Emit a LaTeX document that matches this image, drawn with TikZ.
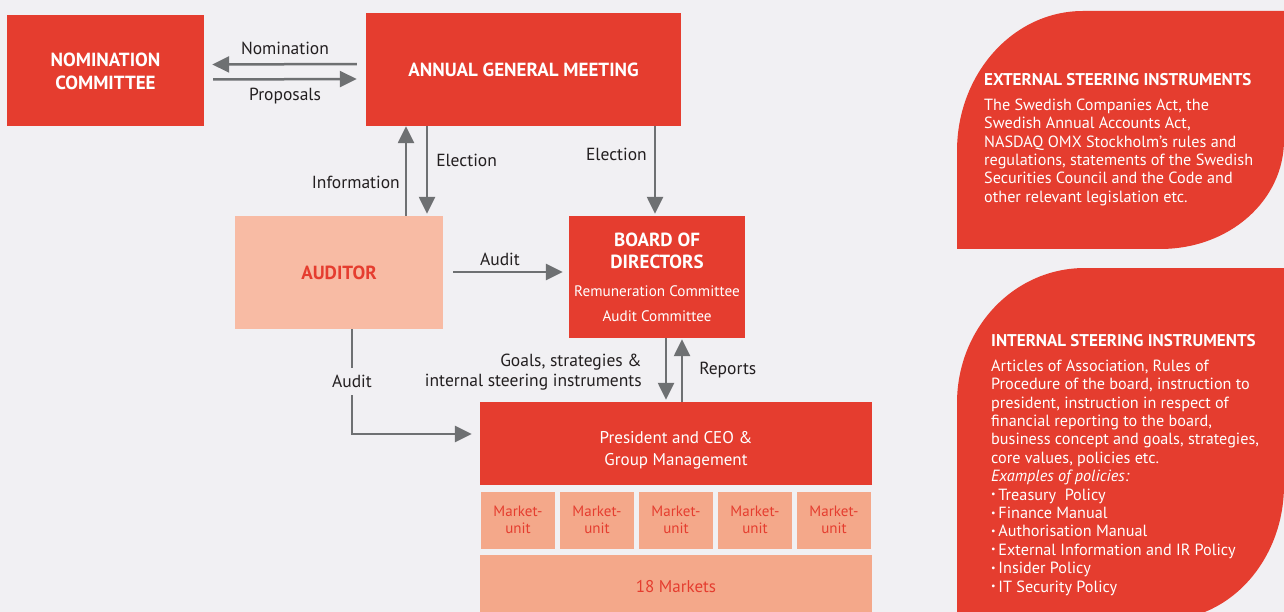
\documentclass[tikz,border=0pt]{standalone}
\usepackage{fontspec}
\setmainfont{PT Sans}
\usetikzlibrary{arrows.meta}

\definecolor{bgGrey}{HTML}{F1F0F3}
\definecolor{boxRed}{HTML}{E53D2F}
\definecolor{audSalmon}{HTML}{F8BBA4}
\definecolor{unitSalmon}{HTML}{F4A88A}
\definecolor{arrGrey}{HTML}{6E7072}
\definecolor{txtBlack}{HTML}{231F20}

% small bullet for the policy list
\newcommand{\polbul}{\raisebox{0.15em}{\fontsize{10}{10}\selectfont\textbullet}\,}

\begin{document}
\begin{tikzpicture}[
		x = 1pt, y = -1pt,
		redbox/.style = {fill=boxRed, text=white, align=center, inner sep=0pt,
			font=\bfseries\fontsize{19}{23}\selectfont},
		unit/.style = {fill=unitSalmon, text=boxRed, align=center, inner sep=0pt,
			minimum width=74pt, minimum height=57pt, font=\fontsize{15}{17}\selectfont},
		arr/.style = {draw=arrGrey, line width=2.5pt, -{Triangle[length=17pt,width=16pt]}},
		lbl/.style = {text=txtBlack, inner sep=0pt, font=\fontsize{17.5}{20}\selectfont},
		panel/.style = {text=white, align=left, inner sep=0pt, anchor=north west,
			font=\fontsize{16.2}{18.4}\selectfont}
	]

	\useasboundingbox[fill=bgGrey] (0,0) rectangle (1284,612);

	% boxes
	\node[redbox, minimum width=197pt, minimum height=111pt] (nom) at (105.5,71) {NOMINATION\\COMMITTEE};
	\node[redbox, minimum width=315pt, minimum height=113pt] (agm) at (523.5,69.5) {ANNUAL GENERAL MEETING};
	\node[redbox, fill=audSalmon, text=boxRed, minimum width=208pt, minimum height=113pt] (aud) at (339,272.5) {AUDITOR};
	\node[redbox, minimum width=176pt, minimum height=122pt] (bod) at (657,277) {BOARD OF\\[-1pt]DIRECTORS\\[5pt]
		{\mdseries\fontsize{15.2}{22}\selectfont Remuneration Committee}\\[2pt]
		{\mdseries\fontsize{15.2}{22}\selectfont Audit Committee}};
	\node[redbox, font=\fontsize{17}{22}\selectfont, minimum width=392pt, minimum height=83pt] (ceo) at (676,443.5)
		{\rule{0pt}{25pt}President and CEO \&\\Group Management};

	\foreach \i/\x in {1/518,2/597,3/676,4/755,5/834}{
		\node[unit] (mu\i) at (\x,520) {Market-\\unit};
	}
	\node[unit, minimum width=392pt, minimum height=63pt, font=\fontsize{17}{20}\selectfont] (mkt) at (676,586.5) {18 Markets};

	% arrows
	\draw[arr, shorten <=9pt, shorten >=8pt] ([yshift=5.5pt]agm.west) -- ([yshift=6.5pt]nom.east)
		node[lbl, midway, above=8pt] (nomLbl) {Nomination};
	\draw[arr, shorten <=9pt, shorten >=9pt] ([yshift=-8.5pt]nom.east) -- ([yshift=-9.5pt]agm.west)
		node[lbl, midway, below=8pt] (propLbl) {Proposals};
	\draw[arr] ([xshift=67pt]aud.north) -- ([xshift=-117.5pt]agm.south)
		node[lbl, pos=0.37, left=5pt] (infoLbl) {Information};
	\draw[arr, shorten >=2pt] ([xshift=-96.5pt]agm.south) -- ([xshift=88pt]aud.north)
		node[lbl, pos=0.38, right=8pt] (elecLbl) {Election};
	\draw[arr, shorten >=2pt] ([xshift=131.5pt]agm.south) -- ([xshift=-2pt]bod.north)
		node[lbl, pos=0.32, left=7pt] (elecBLbl) {Election};
	\draw[arr, shorten <=10pt, shorten >=6pt] ([yshift=0.5pt]aud.east) -- ([yshift=5pt]bod.west)
		node[lbl, midway, above=5pt, xshift=-6pt] (audBLbl) {Audit};
	\draw[arr, shorten >=2pt] ([xshift=9pt]bod.south) -- ([xshift=-10pt]ceo.north)
		node[lbl, pos=0.53, left=23pt, align=right] (goalLbl) {Goals, strategies \&\\internal steering instruments};
	\draw[arr, shorten >=1pt] ([xshift=6pt]ceo.north) -- ([xshift=25pt]bod.south)
		node[lbl, pos=0.5, right=16pt] (repLbl) {Reports};
	\draw[arr, shorten >=8pt] ([xshift=13pt]aud.south) |- ([yshift=9.5pt]ceo.west)
		node[lbl, pos=0.25, fill=bgGrey, inner xsep=2pt, inner ysep=7pt] (audCLbl) {Audit};

	% steering instruments
	\fill[boxRed] (957,249) -- (957,151) .. controls (957,74) and (1013,11) .. (1083,11)
		-- (1284,11) -- (1284,140) .. controls (1284,200) and (1230,249) .. (1160,249) -- cycle;
	\fill[boxRed] (957,612) -- (957,403) .. controls (957,329) and (1013,268) .. (1085,268)
		-- (1284,268) -- (1284,485) .. controls (1284,560) and (1230,620) .. (1164,620) -- (957,620) -- cycle;

	\node[panel] (ext) at (984,73) {\textbf{\fontsize{17}{18.4}\selectfont EXTERNAL STEERING INSTRUMENTS}\\[6.5pt]
		The Swedish Companies Act, the\\
		Swedish Annual Accounts Act,\\
		NASDAQ OMX Stockholm’s rules and\\
		regulations, statements of the Swedish\\
		Securities Council and the Code and\\
		other relevant legislation etc.};
	\node[panel] (int) at (991,334) {\textbf{\fontsize{17}{18.4}\selectfont INTERNAL STEERING INSTRUMENTS}\\[6.5pt]
		Articles of Association, Rules of\\
		Procedure of the board, instruction to\\
		president, instruction in respect of\\
		financial reporting to the board,\\
		business concept and goals, strategies,\\
		core values, policies etc.\\
		\textit{Examples of policies:}\\
		\polbul Treasury\ \ Policy\\
		\polbul Finance Manual\\
		\polbul Authorisation Manual\\
		\polbul External Information and IR Policy\\
		\polbul Insider Policy\\
		\polbul IT Security Policy};

\end{tikzpicture}
\end{document}
